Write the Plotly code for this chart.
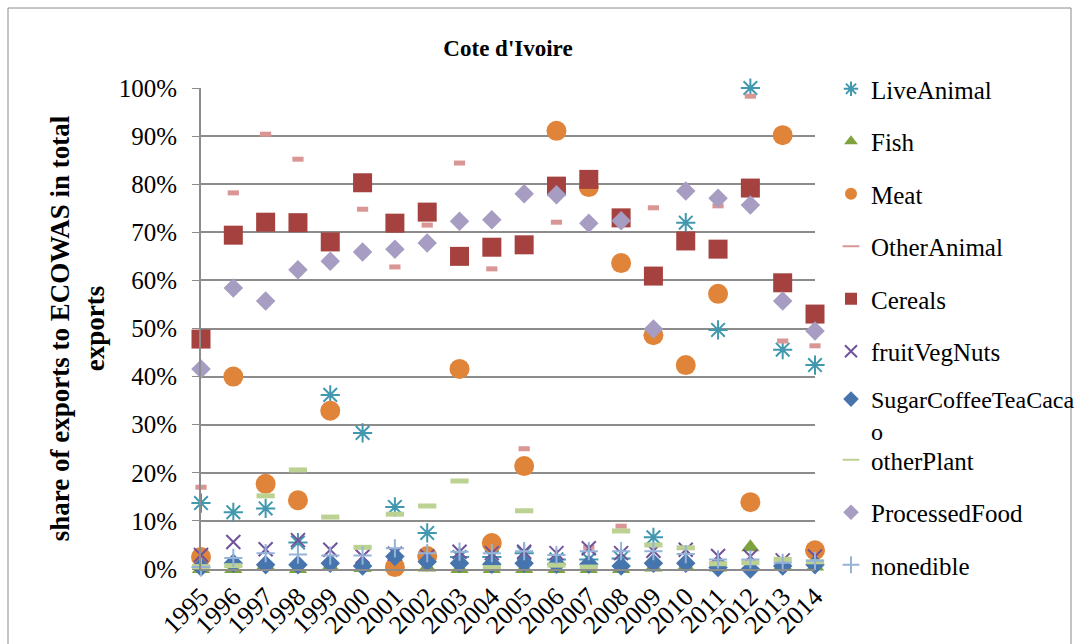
import plotly.graph_objects as go

years = ["1995", "1996", "1997", "1998", "1999", "2000", "2001", "2002", "2003", "2004",
         "2005", "2006", "2007", "2008", "2009", "2010", "2011", "2012", "2013", "2014"]

live_animal = [13.7, 11.8, 12.6, 5.5, 36.2, 28.3, 12.9, 7.5, 2.5, 2.5,
               3.3, 2.0, 2.0, 2.2, 6.6, 72.0, 49.7, 100.0, 45.6, 42.4]
fish = [0.0, 0.0, 0.8, 0.0, 0.5, 0.2, 0.2, 0.3, 0.0, 0.0,
        0.0, 0.0, 0.0, 0.0, 0.3, 0.5, 0.3, 4.5, 0.8, 0.5]
meat = [2.5, 40.0, 17.7, 14.3, 32.9, -0.2, 0.4, 2.7, 41.6, 5.4,
        21.4, 91.1, 79.4, 63.6, 48.6, 42.4, 57.2, 13.9, 90.2, 3.9]
other_animal = [17.0, 78.2, 90.4, 85.2, None, 74.8, 62.8, 71.5, 84.4, 62.4,
                25.0, 72.1, 4.5, 8.9, 75.1, 78.5, 75.5, 98.3, 47.4, 46.4]
cereals = [47.8, 69.4, 72.1, 72.0, 68.0, 80.3, 71.9, 74.2, 65.0, 66.9,
           67.4, 79.6, 81.0, 73.0, 60.9, 68.2, 66.5, 79.2, 59.5, 53.0]
fruit_veg_nuts = [2.9, 5.6, 4.1, 6.0, 4.0, 2.6, 3.2, 2.6, 3.6, 3.3,
                  3.6, 3.3, 4.3, 3.3, 3.8, 4.0, 2.7, 2.6, 1.8, 2.6]
sugar_coffee = [0.4, 1.2, 0.9, 0.9, 1.2, 0.6, 2.6, 1.5, 1.2, 1.0,
                1.2, 1.0, 1.0, 0.6, 1.2, 1.2, 0.3, 0.0, 0.6, 0.9]
other_plant = [0.5, 0.7, 15.2, 20.6, 10.8, 4.5, 11.4, 13.1, 18.3, 0.3,
               12.1, 0.8, 0.4, 7.9, 5.0, 4.4, 1.1, 1.3, 2.0, 1.5]
processed_food = [41.6, 58.4, 55.7, 62.2, 64.0, 65.9, 66.5, 67.8, 72.3, 72.6,
                  78.0, 77.8, 71.9, 72.4, 49.9, 78.6, 77.1, 75.7, 55.7, 49.5]
nonedible = [0.4, 2.3, 3.3, 3.0, 2.8, 2.8, 4.3, 3.3, 3.6, 3.3,
             3.7, 2.9, 3.7, 3.7, 3.7, 3.1, 2.0, 2.0, 1.3, 1.7]

series = [
    ("LiveAnimal", live_animal, "asterisk-open", 16, "#4198af", 2, "legend"),
    ("Fish", fish, "triangle-up", 16, "#7ea23d", 0, "legend"),
    ("Meat", meat, "circle", 20, "#e0843a", 0, "legend"),
    ("OtherAnimal", other_animal, "line-ew-open", 8, "#d99694", 5, "legend"),
    ("Cereals", cereals, "square", 19, "#a5423f", 0, "legend"),
    ("fruitVegNuts", fruit_veg_nuts, "x-thin-open", 14, "#71529a", 2, "legend"),
    ("SugarCoffeeTeaCaca<br>o", sugar_coffee, "diamond", 15, "#4674ad", 0, "legend3"),
    ("otherPlant", other_plant, "line-ew-open", 13, "#bcd293", 5, "legend2"),
    ("ProcessedFood", processed_food, "diamond", 15, "#a79cc2", 0, "legend2"),
    ("nonedible", nonedible, "cross-thin-open", 13, "#95b3d7", 2, "legend2"),
]

FONT = "Liberation Serif"

fig = go.Figure()
for name, vals, sym, size, color, lw, leg in series:
    fig.add_trace(go.Scatter(
        x=years, y=vals, mode="markers", name=name, legendgroup=name,
        legend=leg, cliponaxis=False,
        marker=dict(symbol=sym, size=size, color=color,
                    line=dict(color=color, width=lw)),
    ))

# plot area: x 201..815, y 88..569
L, R, T, B = 201, 1079 - 815, 88, 644 - 569
pw, ph = 1079 - L - R, 644 - T - B

def px_x(x):
    return (x - L) / pw

def px_y(y):
    return (644 - B - y) / ph

leg_common = dict(x=px_x(831), xanchor="left", yanchor="top",
                  tracegroupgap=17, itemsizing="constant", valign="top",
                  bgcolor="rgba(0,0,0,0)")

fig.update_layout(
    width=1079, height=644,
    margin=dict(l=L, r=R, t=T, b=B, autoexpand=False),
    paper_bgcolor="white", plot_bgcolor="white",
    font=dict(family=FONT, size=23, color="black"),
    title=dict(text="Cote d'Ivoire", x=0.5, xref="paper", xanchor="center",
               y=1 - 48 / 644, yref="container", yanchor="middle",
               font=dict(family=FONT, size=23, weight="bold")),
    showlegend=True,
    legend=dict(y=px_y(66), font=dict(family=FONT, size=25), **leg_common),
    legend3=dict(y=px_y(377), font=dict(family=FONT, size=24), **leg_common),
    legend2=dict(y=px_y(437), font=dict(family=FONT, size=25), **leg_common),
    xaxis=dict(type="category", range=[0, len(years) - 1], tickangle=-45,
               showgrid=False, showline=True, linecolor="#8c8c8c", linewidth=2,
               ticks="", tickfont=dict(family=FONT, size=26), automargin=False),
    yaxis=dict(range=[0, 100], dtick=10, ticksuffix="%", showgrid=True,
               gridcolor="#8c8c8c", gridwidth=1.5, zeroline=False,
               showline=True, linecolor="#8c8c8c", linewidth=2,
               ticks="outside", ticklen=7, tickcolor="#8c8c8c",
               ticklabelstandoff=10,
               tickfont=dict(family=FONT, size=25), automargin=False,
               title=dict(text="share of exports to ECOWAS in total<br>exports",
                          font=dict(family=FONT, size=27, weight="bold"),
                          standoff=6)),
    shapes=[dict(type="rect", xref="paper", yref="paper",
                 x0=px_x(8), x1=px_x(1071), y0=px_y(660), y1=px_y(8),
                 line=dict(color="#8a8a8a", width=1), fillcolor="rgba(0,0,0,0)",
                 layer="below")],
)

fig.write_html("out.html", post_script="document.body.style.margin='0px';",
               config={"displayModeBar": False})
